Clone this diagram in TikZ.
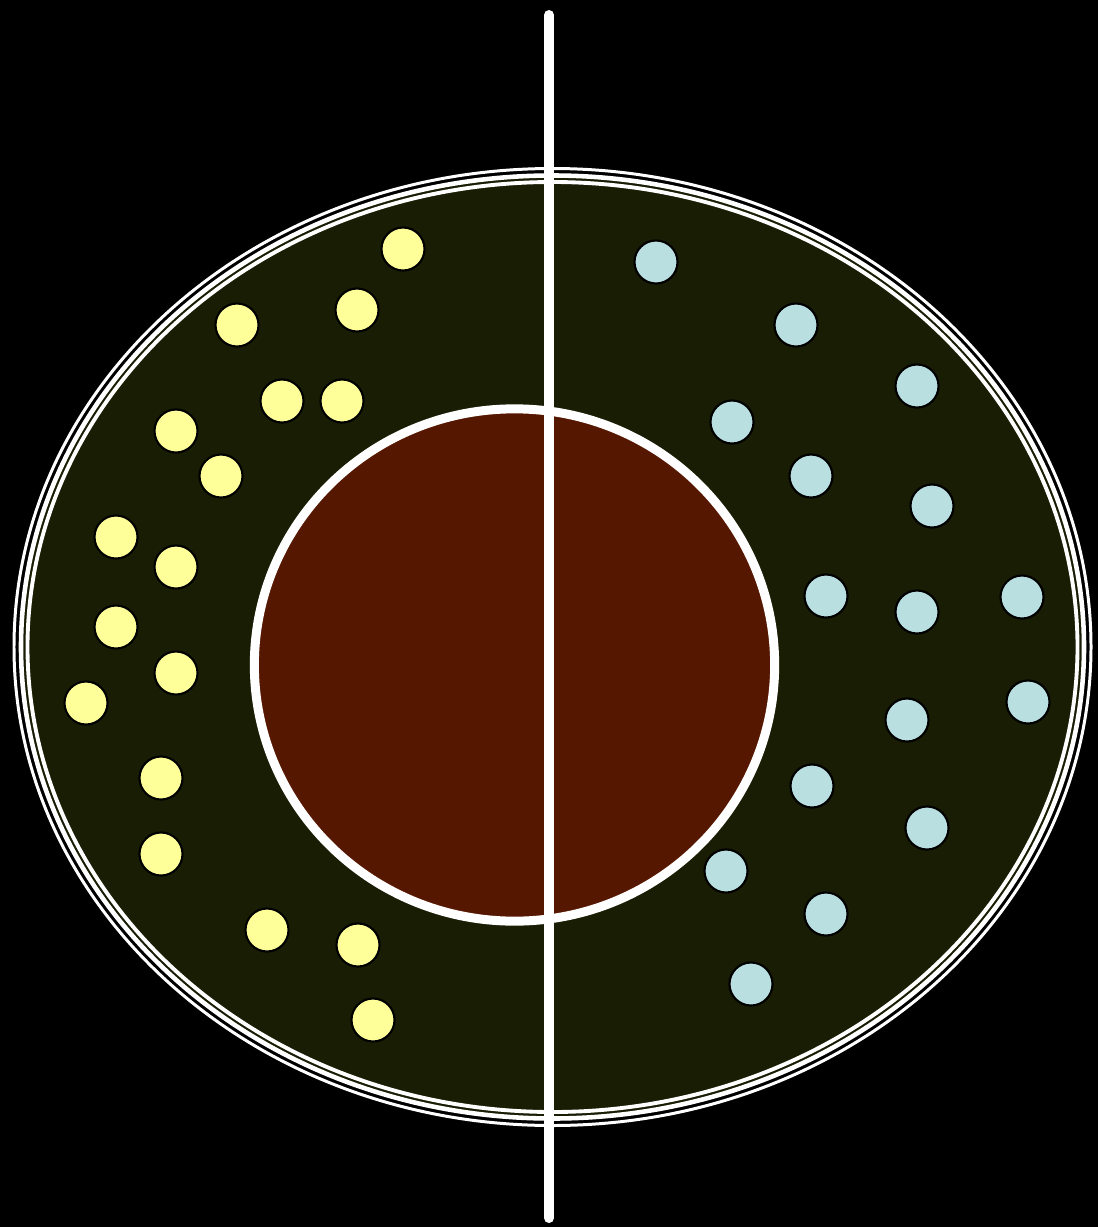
\documentclass[tikz,border=0pt]{standalone}
\usepackage{xcolor}
\usepackage{tikz}
\usetikzlibrary{shapes.geometric, positioning}

\definecolor{cytoplasm}{HTML}{181D04}
\definecolor{nucleus}{HTML}{561700}
\definecolor{yellowgranule}{HTML}{FFFF99}
\definecolor{bluegranule}{HTML}{B9DFE0}

\begin{document}
\begin{tikzpicture}[
    x=0.01cm, y=-0.01cm,
    ring/.style={draw=white},
    granule/.style={circle, draw=black, line width=0.6pt, minimum size=0.43cm, inner sep=0pt},
    ygranule/.style={granule, fill=yellowgranule},
    bgranule/.style={granule, fill=bluegranule},
    axis/.style={draw=white, line width=2.85pt, line cap=round}
]

% background and page size
\fill[black] (0,0) rectangle (1098,1227);
\useasboundingbox (0,0) rectangle (1098,1227);

% cell wall and cytoplasm
\draw[ring, line width=0.85pt] (552.5,647) ellipse [x radius=538.5, y radius=478.5];
\draw[ring, line width=1.3pt, fill=cytoplasm] (552.5,647) ellipse [x radius=531.5, y radius=471.5];
\draw[ring, line width=1.1pt] (552.5,647) ellipse [x radius=525, y radius=465];

% nucleus
\node (nucleus) [ellipse, draw=white, line width=2.56pt, fill=nucleus, minimum width=5.2cm, minimum height=5.12cm, inner sep=0pt] at (514.5,665) {};

% left half granules
\foreach \i/\x/\y in {1/403/249, 2/237/325, 3/357/310, 4/282/401, 5/342/401, 6/176/431,
    7/221/476, 8/116/537, 9/176/567, 10/116/627, 11/176/673, 12/86/703,
    13/161/778, 14/161/854, 15/267/930, 16/358/945, 17/373/1020}
    \node (y\i) [ygranule] at (\x,\y) {};

% right half granules
\foreach \i/\x/\y in {1/656/262, 2/796/325, 3/917/386, 4/732/422, 5/811/476, 6/932/506,
    7/826/596, 8/917/612, 9/1022/597, 10/907/720, 11/1028/702, 12/812/786,
    13/927/828, 14/726/871, 15/826/914, 16/751/984}
    \node (b\i) [bgranule] at (\x,\y) {};

% division axis
\coordinate (axistop) at (549,15);
\coordinate (axisbottom) at (549,1218);
\draw [axis] (axistop) -- (axisbottom);

\end{tikzpicture}
\end{document}
